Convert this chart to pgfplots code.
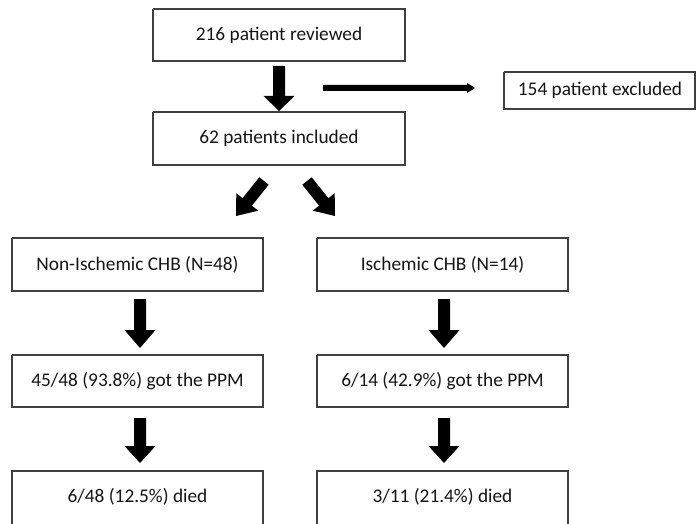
\documentclass[border=0pt]{standalone}
\usepackage{pgfplots}
\pgfplotsset{compat=1.18}
\usepackage{fontspec}
\setmainfont{Carlito}
\definecolor{boxline}{HTML}{404040}
\definecolor{txt}{HTML}{141414}
\tikzset{lbl/.style={font=\fontsize{19.4}{23}\selectfont, text=txt, inner sep=0pt}}
\begin{document}
\begin{tikzpicture}
\begin{axis}[
  scale only axis, width=696bp, height=524bp,
  xmin=0, xmax=696, ymin=0, ymax=524, y dir=reverse,
  hide axis, clip=true,
]
\path (axis cs:0,0) rectangle (axis cs:696,524);
% boxes
\addplot[boxline, line width=1.1pt, sharp plot] coordinates {(153,9) (405,9) (405,61) (153,61) (153,9)};
\addplot[boxline, line width=1.1pt, sharp plot] coordinates {(153,112) (405,112) (405,165) (153,165) (153,112)};
\addplot[boxline, line width=1.1pt, sharp plot] coordinates {(504,72) (695,72) (695,109) (504,109) (504,72)};
\addplot[boxline, line width=1.1pt, sharp plot] coordinates {(12,238) (263,238) (263,291) (12,291) (12,238)};
\addplot[boxline, line width=1.1pt, sharp plot] coordinates {(317,238) (568,238) (568,291) (317,291) (317,238)};
\addplot[boxline, line width=1.1pt, sharp plot] coordinates {(12,355) (263,355) (263,407) (12,407) (12,355)};
\addplot[boxline, line width=1.1pt, sharp plot] coordinates {(317,355) (568,355) (568,407) (317,407) (317,355)};
\addplot[boxline, line width=1.1pt, sharp plot] coordinates {(12,530) (12,471) (263,471) (263,530)};
\addplot[boxline, line width=1.1pt, sharp plot] coordinates {(317,530) (317,471) (568,471) (568,530)};
% block arrows
\addplot[fill=black, draw=none] coordinates {(273,66) (285,66) (285,96) (294.5,96) (279,111) (263.5,96) (273,96)} --cycle;
\addplot[fill=black, draw=none] coordinates {(134,299) (146,299) (146,330) (155.5,330) (140,348) (124.5,330) (134,330)} --cycle;
\addplot[fill=black, draw=none] coordinates {(438,299) (450,299) (450,330) (459.5,330) (444,348) (428.5,330) (438,330)} --cycle;
\addplot[fill=black, draw=none] coordinates {(134,418) (146,418) (146,446) (155.5,446) (140,463) (124.5,446) (134,446)} --cycle;
\addplot[fill=black, draw=none] coordinates {(438,418) (450,418) (450,446) (459.5,446) (444,463) (428.5,446) (438,446)} --cycle;
% diagonal arrows
\addplot[fill=black, draw=none] coordinates {(268.69,184.75) (251.94,205.69) (258.18,210.69) (236,216) (236.32,193.19) (242.56,198.19) (259.31,177.25)} --cycle;
\addplot[fill=black, draw=none] coordinates {(311.69,177.25) (328.44,198.19) (334.68,193.19) (335,216) (312.82,210.69) (319.06,205.69) (302.31,184.75)} --cycle;
% horizontal arrow
\addplot[fill=black, draw=none] coordinates {(323,85) (467,85) (467,83) (475,88) (467,93) (467,91) (323,91)} --cycle;
% labels
\node[lbl] at (axis cs:279,35) {216 patient reviewed};
\node[lbl] at (axis cs:279,138.5) {62 patients included};
\node[lbl] at (axis cs:600,90.5) {154 patient excluded};
\node[lbl] at (axis cs:137.5,264.5) {Non-Ischemic CHB (N=48)};
\node[lbl] at (axis cs:442.5,264.5) {Ischemic CHB (N=14)};
\node[lbl] at (axis cs:137.5,381) {45/48 (93.8\%) got the PPM};
\node[lbl] at (axis cs:442.5,381) {6/14 (42.9\%) got the PPM};
\node[lbl] at (axis cs:137.5,497) {6/48 (12.5\%) died};
\node[lbl] at (axis cs:442.5,497) {3/11 (21.4\%) died};
\end{axis}
\end{tikzpicture}
\end{document}
